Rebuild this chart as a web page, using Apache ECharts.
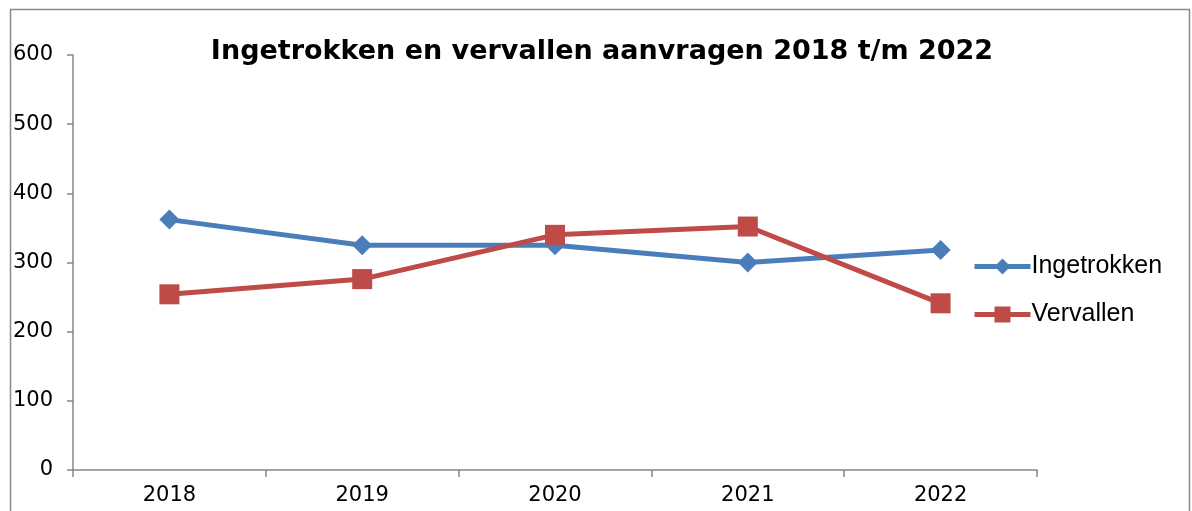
<!DOCTYPE html>
<html>
<head>
<meta charset="utf-8">
<script src="https://cdn.jsdelivr.net/npm/echarts@6/dist/echarts.min.js"></script>
<style>
html,body{margin:0;padding:0;background:#fff;}
#chart{width:1192px;height:511px;}
</style>
</head>
<body>
<div id="chart"></div>
<script>
const years = ['2018', '2019', '2020', '2021', '2022'];
const ingetrokken = [362, 325, 325, 300, 318];
const vervallen = [254, 276, 340, 352, 241];
const titleText = 'Ingetrokken en vervallen aanvragen 2018 t/m 2022';

const chart = echarts.init(document.getElementById('chart'), null, {renderer: 'canvas'});
const axisGray = '#868686';
chart.setOption({
  animation: false,
  backgroundColor: '#ffffff',
  title: {
    text: titleText,
    left: 597, top: 33, textAlign: 'center',
    textStyle: {fontFamily: 'DejaVu Sans', fontWeight: 'bold', fontSize: 27, color: '#000'}
  },
  graphic: [{
    type: 'rect', silent: true,
    shape: {x: 10.5, y: 9.5, width: 1179, height: 540},
    style: {fill: 'none', stroke: '#8a8a8a', lineWidth: 1.5}
  }],
  legend: {
    orient: 'vertical', left: 972, top: 254, itemGap: 23, padding: 0,
    itemWidth: 56, itemHeight: 20,
    lineStyle: {width: 5},
    textStyle: {fontFamily: 'Liberation Sans', fontSize: 25, color: '#000', padding: [0, 0, 0, -4]},
    data: ['Ingetrokken', 'Vervallen']
  },
  grid: {left: 73, right: 155, top: 55, bottom: 41, containLabel: false},
  xAxis: {
    type: 'category', data: years, boundaryGap: true,
    axisLine: {lineStyle: {color: axisGray, width: 1.5}},
    axisTick: {show: true, length: 7, inside: false, lineStyle: {color: axisGray, width: 1.5}},
    axisLabel: {fontFamily: 'DejaVu Sans', fontSize: 21, color: '#000', margin: 15}
  },
  yAxis: {
    type: 'value', min: 0, max: 600, interval: 100,
    axisLine: {show: true, lineStyle: {color: axisGray, width: 1.5}},
    axisTick: {show: true, length: 6, lineStyle: {color: axisGray, width: 1.5}},
    splitLine: {show: false},
    axisLabel: {fontFamily: 'DejaVu Sans', fontSize: 21, color: '#000', margin: 20}
  },
  series: [{
    name: 'Ingetrokken', type: 'line', data: ingetrokken,
    symbol: 'diamond', symbolSize: 20, showAllSymbol: true,
    lineStyle: {color: '#4a7ebb', width: 5},
    itemStyle: {color: '#4a7ebb'}
  }, {
    name: 'Vervallen', type: 'line', data: vervallen,
    symbol: 'rect', symbolSize: 20, showAllSymbol: true,
    lineStyle: {color: '#be4b48', width: 5},
    itemStyle: {color: '#be4b48'}
  }]
});
</script>
</body>
</html>
